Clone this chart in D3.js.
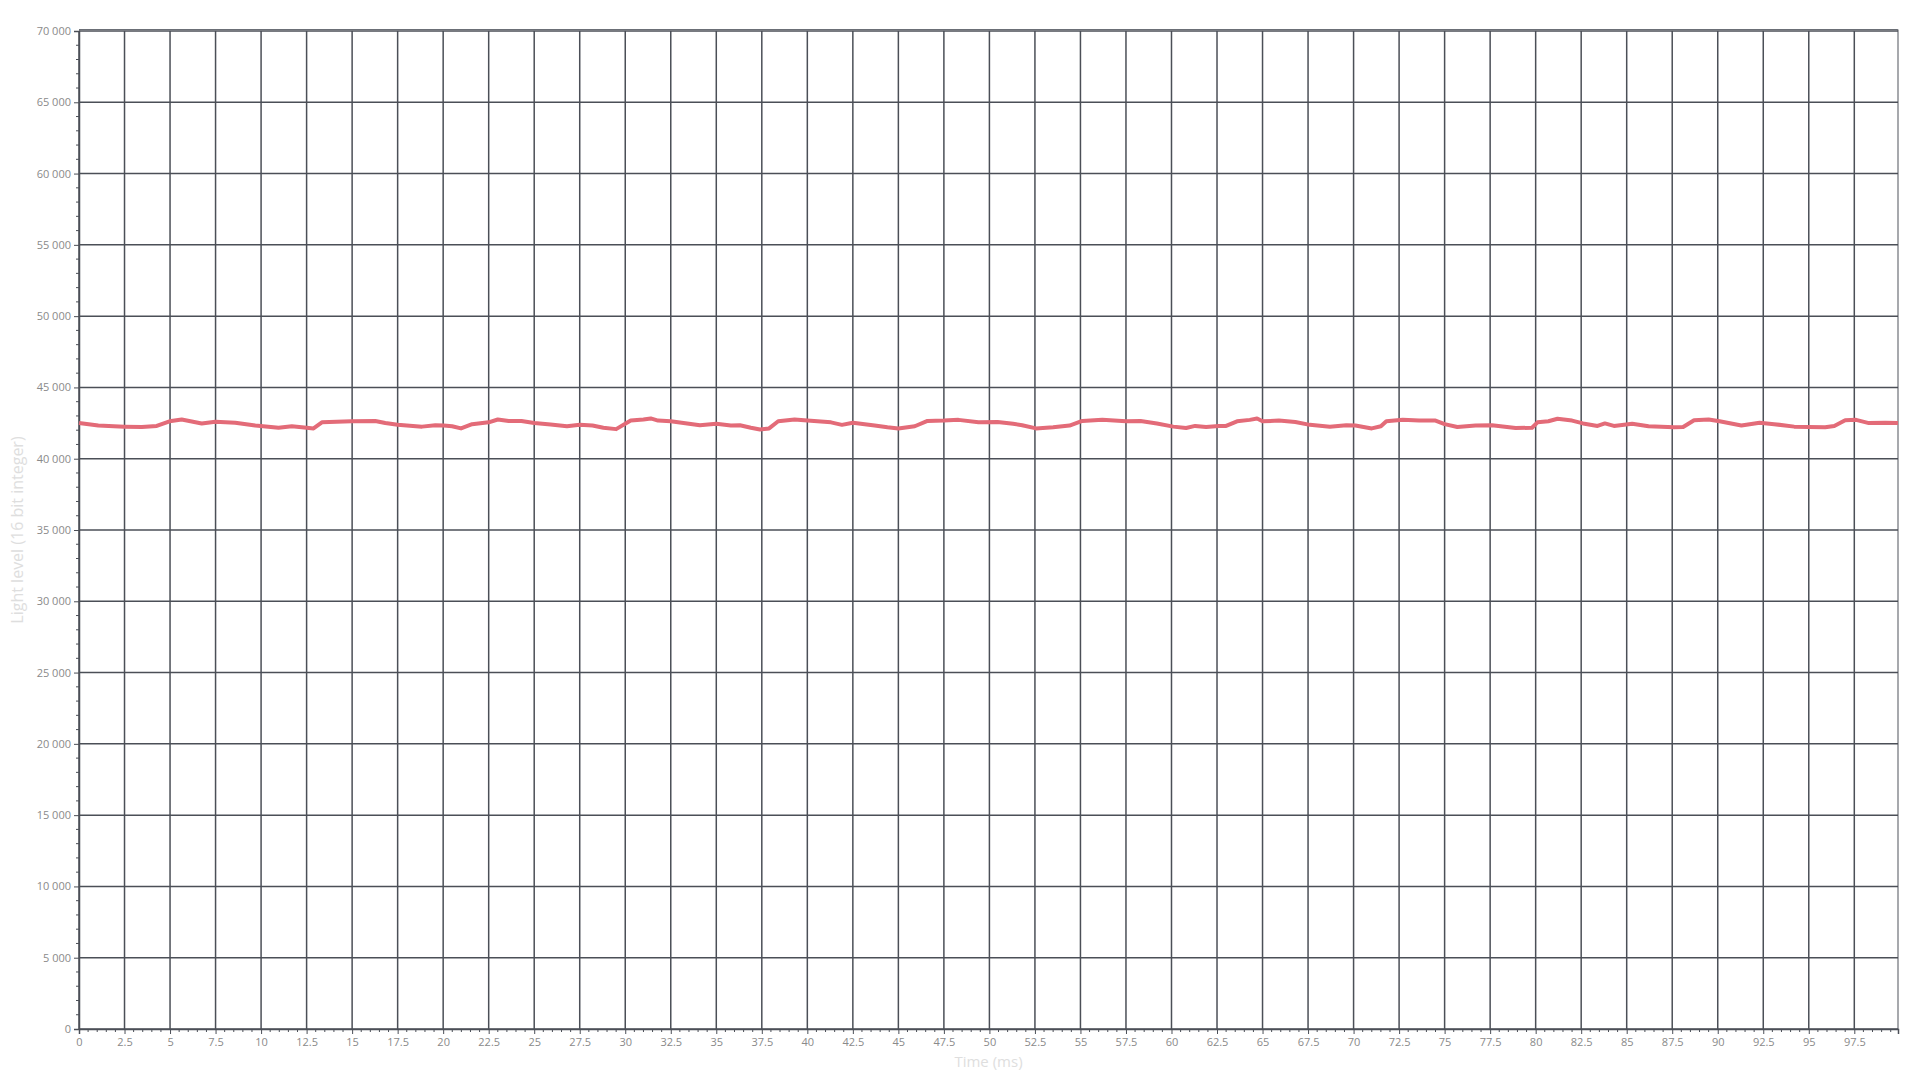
<!DOCTYPE html>
<html>
  <head>
    <meta http-equiv="Content-Type" content="text/html;charset=utf-8"/>
	<title>Light level</title>
	<script src="https://cdn.jsdelivr.net/npm/d3@7/dist/d3.min.js"></script>
	<style>
		body { margin: 0; background: #ffffff; }
		.tickText { fill: #8a8a8a; font-size: 11px; font-family: 'Open Sans', sans-serif; }
		.axisTitle { fill: #dedede; font-size: 15px; font-family: 'Open Sans', sans-serif; }
	</style>
  </head>
  <body>
	<div id="chart"></div>
    <script>

		// time (ms) and light level readings
		var times = [0, 1.06, 2.49, 3.45, 4.27, 4.97, 5.64, 6.74, 7.49, 8.58, 9.68, 9.97, 10.96, 11.69, 12.5, 12.88,
			13.34, 14.97, 16.27, 16.82, 17.5, 18.84, 19.57, 20.03, 20.49, 20.98, 21.59, 22.5, 23.0, 23.6, 24.3, 25.0,
			25.9, 26.8, 27.5, 28.2, 28.8, 29.5, 30.3, 31.0, 31.4, 31.8, 32.5, 33.4, 34.1, 35.0, 35.8, 36.3, 36.9,
			37.4, 37.9, 38.4, 39.3, 40.0, 41.3, 41.9, 42.5, 43.7, 44.4, 45.0, 45.9, 46.6, 47.5, 48.3, 49.4,
			50.45, 51.3, 51.8, 52.56, 53.5, 54.4, 55.1, 56.2, 57.5, 58.3, 59.2, 60.1, 60.8, 61.3, 61.9, 62.6, 63.0,
			63.6, 64.3, 64.7, 65.0, 65.9, 66.8, 67.6, 68.7, 69.6, 70.1, 71.0, 71.5, 71.8, 72.7, 73.6, 74.5,
			75.0, 75.7, 76.7, 77.6, 78.9, 79.8, 80.1, 80.7, 81.2, 82.0, 82.6, 83.4, 83.8, 84.3, 85.3, 86.2, 87.6,
			88.1, 88.7, 89.5, 90.1, 91.3, 92.3, 93.1, 94.2, 95.0, 95.9, 96.4, 97.0, 97.6, 98.3, 99.2, 99.9];
		var levels = [42500, 42325, 42250, 42225, 42300, 42625, 42750, 42475, 42600, 42525, 42325, 42300, 42175, 42275, 42175, 42125,
			42550, 42625, 42650, 42500, 42375, 42250, 42350, 42325, 42275, 42125, 42425, 42550, 42750, 42650, 42650, 42500,
			42400, 42275, 42375, 42325, 42175, 42075, 42675, 42750, 42825, 42675, 42625, 42475, 42350, 42450, 42325, 42350, 42175,
			42050, 42125, 42625, 42750, 42675, 42550, 42375, 42525, 42325, 42200, 42125, 42275, 42650, 42675, 42725, 42550,
			42575, 42450, 42350, 42125, 42200, 42325, 42650, 42725, 42625, 42650, 42475, 42250, 42150, 42300, 42225, 42300, 42300,
			42625, 42725, 42825, 42625, 42675, 42575, 42375, 42250, 42350, 42325, 42125, 42275, 42625, 42725, 42675, 42675,
			42425, 42225, 42325, 42350, 42150, 42175, 42550, 42625, 42800, 42675, 42475, 42300, 42475, 42300, 42450, 42275, 42200,
			42225, 42700, 42750, 42625, 42325, 42525, 42425, 42250, 42225, 42200, 42300, 42700, 42725, 42500, 42525, 42500];

		var xTicks = d3.range(0, 100, 2.5);
		var yTicks = d3.range(0, 70001, 5000);
		var xTitle = "Time (ms)";
		var yTitle = "Light level (16 bit integer)";

		var margin = {left: 79, top: 31, right: 22, bottom: 51},
			width = 1920 - margin.left - margin.right,
			height = 1080 - margin.top - margin.bottom;

		var svg = d3.select("#chart").append("svg")
			.attr("width", 1920)
			.attr("height", 1080)
		  .append("g")
			.attr("transform", "translate(" + margin.left + "," + margin.top + ")");

		var x = d3.scaleLinear().domain([0, 99.9]).range([0, width]);
		var y = d3.scaleLinear().domain([0, 70000]).range([height, 0]);

		var fmt = function(d) { return d3.format(",")(d).replace(/,/g, " "); };
		var gridColour = "#4b4f57";

		// outer frame
		svg.append("line").attr("x1", 0).attr("x2", width).attr("y1", -1.5).attr("y2", -1.5)
			.attr("stroke", "#6b6f76").attr("stroke-width", 1);
		svg.append("line").attr("x1", width).attr("x2", width).attr("y1", -1.5).attr("y2", height)
			.attr("stroke", "#8a8d92").attr("stroke-width", 1.5);

		// grid
		svg.append("g").selectAll("line.vgrid")
			.data(xTicks)
		  .enter().append("line")
			.attr("x1", d => x(d)).attr("x2", d => x(d))
			.attr("y1", 0).attr("y2", height)
			.attr("stroke", gridColour).attr("stroke-width", 1.5);

		svg.append("g").selectAll("line.hgrid")
			.data(yTicks)
		  .enter().append("line")
			.attr("x1", 0).attr("x2", width)
			.attr("y1", d => y(d)).attr("y2", d => y(d))
			.attr("stroke", gridColour).attr("stroke-width", 1.5);

		// axes
		var xAxis = svg.append("g")
			.attr("transform", "translate(0," + height + ")")
			.call(d3.axisBottom(x).tickValues(xTicks).tickSize(5).tickPadding(4).tickFormat(d3.format("")));
		var yAxis = svg.append("g")
			.call(d3.axisLeft(y).tickValues(yTicks).tickSize(5).tickPadding(3).tickFormat(fmt));

		[xAxis, yAxis].forEach(function(a) {
			a.select(".domain").attr("stroke", gridColour).attr("stroke-width", 1.5);
			a.selectAll(".tick line").attr("stroke", gridColour).attr("stroke-width", 1);
			a.selectAll(".tick text").attr("class", "tickText").attr("font-size", null).attr("font-family", null);
		});

		// minor ticks
		svg.append("g").selectAll("line")
			.data(d3.range(0, 99.9, 0.5).filter(d => xTicks.indexOf(d) < 0))
		  .enter().append("line")
			.attr("x1", d => x(d)).attr("x2", d => x(d))
			.attr("y1", height).attr("y2", height + 3)
			.attr("stroke", gridColour);
		svg.append("g").selectAll("line")
			.data(d3.range(0, 70000, 1000).filter(d => d % 5000 != 0))
		  .enter().append("line")
			.attr("x1", -3).attr("x2", 0)
			.attr("y1", d => y(d)).attr("y2", d => y(d))
			.attr("stroke", gridColour);

		// titles
		svg.append("text").attr("class", "axisTitle")
			.attr("x", width / 2).attr("y", height + 38)
			.attr("text-anchor", "middle")
			.text(xTitle);
		svg.append("text").attr("class", "axisTitle")
			.attr("transform", "translate(" + (-56) + "," + (height / 2) + ")rotate(-90)")
			.attr("text-anchor", "middle")
			.style("font-size", "16px")
			.text(yTitle);

		// trace
		var line = d3.line()
			.x((d, i) => x(times[i]))
			.y(d => y(d));

		svg.append("path")
			.datum(levels)
			.attr("fill", "none")
			.attr("stroke", "#e36b78")
			.attr("stroke-width", 4)
			.attr("stroke-linejoin", "round")
			.attr("d", line);

	</script>
  </body>
</html>
